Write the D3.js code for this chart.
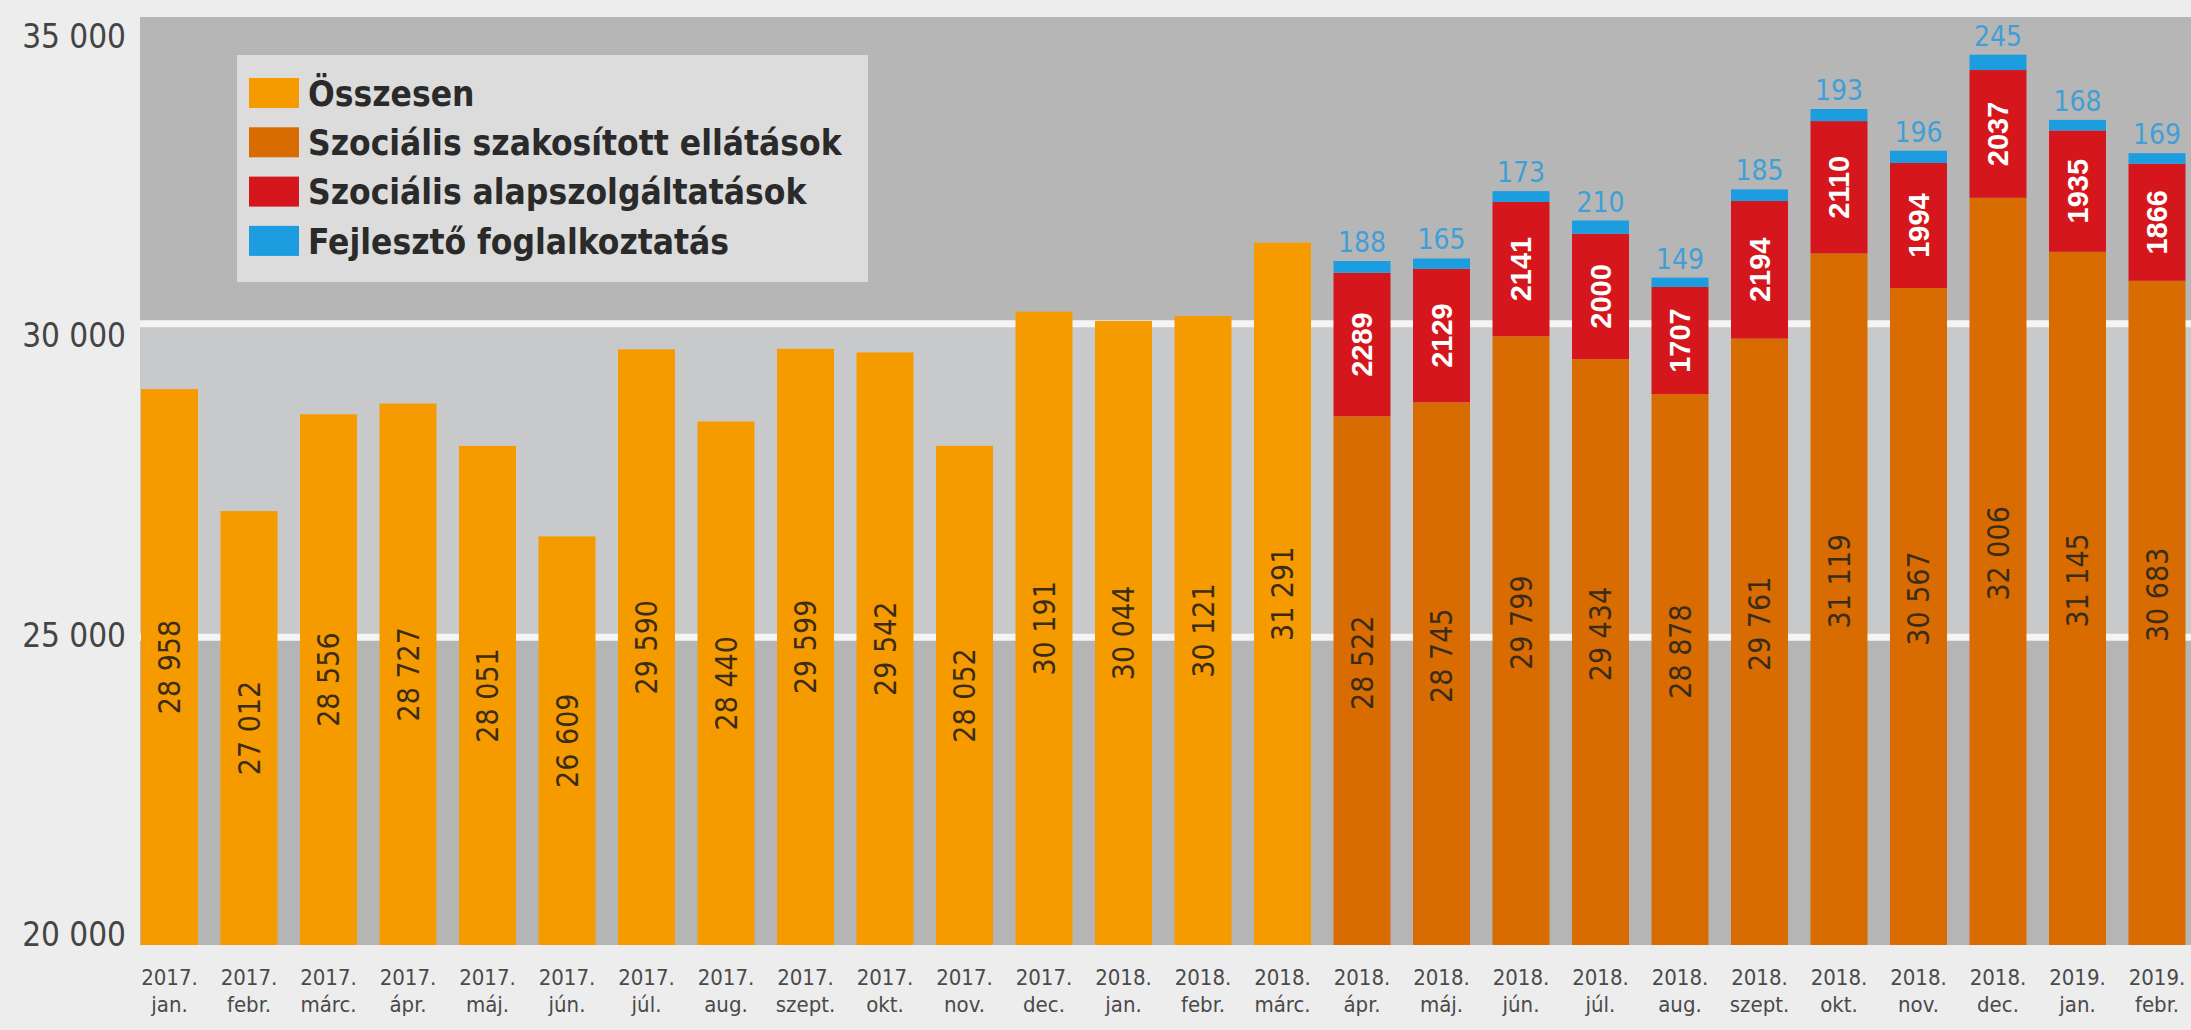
<!DOCTYPE html>
<html>
<head>
<meta charset="utf-8">
<script src="https://cdn.jsdelivr.net/npm/d3@7"></script>
<style>
  html, body { margin: 0; padding: 0; background: #ededed; }
  svg { display: block; }
  .narrow { font-family: "Liberation Sans Narrow", "DejaVu Sans Condensed", sans-serif; }
</style>
</head>
<body>
<svg id="chart"></svg>
<script>
// x labels (two lines)
var years = ["2017.","2017.","2017.","2017.","2017.","2017.","2017.","2017.","2017.","2017.","2017.","2017.",
             "2018.","2018.","2018.","2018.","2018.","2018.","2018.","2018.","2018.","2018.","2018.","2018.",
             "2019.","2019."];
var months = ["jan.","febr.","márc.","ápr.","máj.","jún.","júl.","aug.","szept.","okt.","nov.","dec.",
              "jan.","febr.","márc.","ápr.","máj.","jún.","júl.","aug.","szept.","okt.","nov.","dec.",
              "jan.","febr."];

// Összesen (only until 2018 márc.)
var osszesen = [28958, 27012, 28556, 28727, 28051, 26609, 29590, 28440, 29599, 29542, 28052, 30191,
                30044, 30121, 31291, null, null, null, null, null, null, null, null, null, null, null];
// from 2018 ápr.
var szakositott = [null, null, null, null, null, null, null, null, null, null, null, null, null, null, null,
                   28522, 28745, 29799, 29434, 28878, 29761, 31119, 30567, 32006, 31145, 30683];
var alapszolg = [null, null, null, null, null, null, null, null, null, null, null, null, null, null, null,
                 2289, 2129, 2141, 2000, 1707, 2194, 2110, 1994, 2037, 1935, 1866];
var fejleszto = [null, null, null, null, null, null, null, null, null, null, null, null, null, null, null,
                 188, 165, 173, 210, 149, 185, 193, 196, 245, 168, 169];

var yTicks = [20000, 25000, 30000, 35000];
var gridVals = [25000, 30000];

var legendNames = ["Összesen", "Szociális szakosított ellátások", "Szociális alapszolgáltatások", "Fejlesztő foglalkoztatás"];
var colors = ["#f59b00", "#d96c00", "#d5171d", "#1b9de0"];

var W = 2191, H = 1030;
var plot = {left: 140, top: 17, right: 2191, bottom: 945};

var svg = d3.select("#chart").attr("width", W).attr("height", H);
var fmt = function(v) { return d3.format(",")(v).replace(/,/g, " "); };

var idx = d3.range(years.length);
var x = d3.scaleBand().domain(idx).range([141, 2185.5]).paddingInner(0.283).paddingOuter(0);
var y = d3.scaleLinear().domain([20000, 35000]).range([951, 10]);
// tick labels in the source sit on their own even spacing
var yLab = d3.scaleLinear().domain([20000, 35000]).range([935, 37]);

// background bands
var bands = [
  {y0: plot.top, y1: y(30000), c: "#b6b6b6"},
  {y0: y(30000), y1: y(25000), c: "#c8c9ca"},
  {y0: y(25000), y1: plot.bottom, c: "#b5b5b6"}
];
svg.selectAll("rect.band").data(bands).enter().append("rect")
  .attr("class", "band")
  .attr("x", plot.left).attr("width", plot.right - plot.left)
  .attr("y", function(d){ return d.y0; })
  .attr("height", function(d){ return d.y1 - d.y0; })
  .attr("fill", function(d){ return d.c; });

svg.selectAll("line.grid").data(gridVals).enter().append("line")
  .attr("class", "grid")
  .attr("x1", plot.left).attr("x2", plot.right)
  .attr("y1", function(d){ return y(d); }).attr("y2", function(d){ return y(d); })
  .attr("stroke", "#f4f4f4").attr("stroke-width", 7);

svg.append("clipPath").attr("id", "clip").append("rect")
  .attr("x", plot.left).attr("y", plot.top)
  .attr("width", plot.right - plot.left).attr("height", plot.bottom - plot.top);

var g = svg.append("g").attr("clip-path", "url(#clip)");

// stacked segments
var segs = [];
idx.forEach(function(i) {
  if (osszesen[i] != null) {
    segs.push({i: i, lo: 20000, hi: osszesen[i], c: colors[0], k: 0});
  } else {
    var a = szakositott[i], b = a + alapszolg[i], c = b + fejleszto[i];
    segs.push({i: i, lo: 20000, hi: a, c: colors[1], k: 1});
    segs.push({i: i, lo: a, hi: b, c: colors[2], k: 2});
    segs.push({i: i, lo: b, hi: c, c: colors[3], k: 3});
  }
});

g.selectAll("rect.bar").data(segs).enter().append("rect")
  .attr("class", "bar")
  .attr("x", function(d){ return x(d.i); })
  .attr("width", x.bandwidth())
  .attr("y", function(d){ return y(d.hi); })
  .attr("height", function(d){ return y(d.lo) - y(d.hi); })
  .attr("fill", function(d){ return d.c; });

// labels inside bars
function segMid(d) {
  var top = y(d.hi), bot = Math.min(y(d.lo), plot.bottom);
  var m = (top + bot) / 2;
  if (d.k === 1) m -= 18;
  return m;
}
svg.selectAll("text.val").data(segs.filter(function(d){ return d.k < 3; })).enter().append("text")
  .attr("class", "val")
  .attr("transform", function(d){ return "translate(" + (x(d.i) + x.bandwidth()/2) + "," + segMid(d) + ") rotate(-90)"; })
  .attr("text-anchor", "middle")
  .attr("dy", "0.36em")
  .style("font-family", function(d){ return d.k === 2 ? "'Liberation Sans', Arial, sans-serif" : "'Liberation Sans Narrow', 'DejaVu Sans Condensed', sans-serif"; })
  .style("font-size", function(d){ return d.k === 2 ? "29px" : "30px"; })
  .style("font-weight", function(d){ return d.k === 2 ? "bold" : "normal"; })
  .attr("fill", function(d){ return d.k === 2 ? "#ffffff" : "#3a2c18"; })
  .text(function(d){ return d.k === 2 ? String(alapszolg[d.i]) : fmt(d.hi); });

// blue values above bars
svg.selectAll("text.top").data(segs.filter(function(d){ return d.k === 3; })).enter().append("text")
  .attr("class", "top narrow")
  .attr("x", function(d){ return x(d.i) + x.bandwidth()/2; })
  .attr("y", function(d){ return y(d.hi) - 9; })
  .attr("text-anchor", "middle")
  .style("font-size", "28px")
  .attr("fill", "#3f9fd6")
  .text(function(d){ return fejleszto[d.i]; });

// y axis labels
var yAxis = d3.axisLeft(yLab).tickValues(yTicks).tickSize(0).tickPadding(0).tickFormat(fmt);
var ya = svg.append("g").attr("transform", "translate(126,0)").call(yAxis);
ya.select(".domain").remove();
ya.selectAll("text").attr("class", "narrow").style("font-size", "33px").attr("fill", "#444");

// x labels
var xl = svg.selectAll("g.xl").data(idx).enter().append("g")
  .attr("class", "xl narrow")
  .attr("transform", function(i){ return "translate(" + (x(i) + x.bandwidth()/2) + ",0)"; })
  .style("font-size", "22px").attr("fill", "#4a4a4a").attr("text-anchor", "middle");
xl.append("text").attr("y", 985).text(function(i){ return years[i]; });
xl.append("text").attr("y", 1012).text(function(i){ return months[i]; });

// legend
var lg = svg.append("g").attr("transform", "translate(237,55)");
lg.append("rect").attr("width", 631).attr("height", 227).attr("fill", "#dcdcdc");
var li = lg.selectAll("g.li").data(legendNames).enter().append("g")
  .attr("transform", function(d, i){ return "translate(12," + (38 + i * 49.3) + ")"; });
li.append("rect").attr("y", -15).attr("width", 50).attr("height", 30)
  .attr("fill", function(d, i){ return colors[i]; });
li.append("text").attr("class", "narrow").attr("x", 59).attr("dy", "0.36em")
  .style("font-size", "35px").style("font-weight", "bold").attr("fill", "#2a2a2a")
  .text(function(d){ return d; });
</script>
</body>
</html>
